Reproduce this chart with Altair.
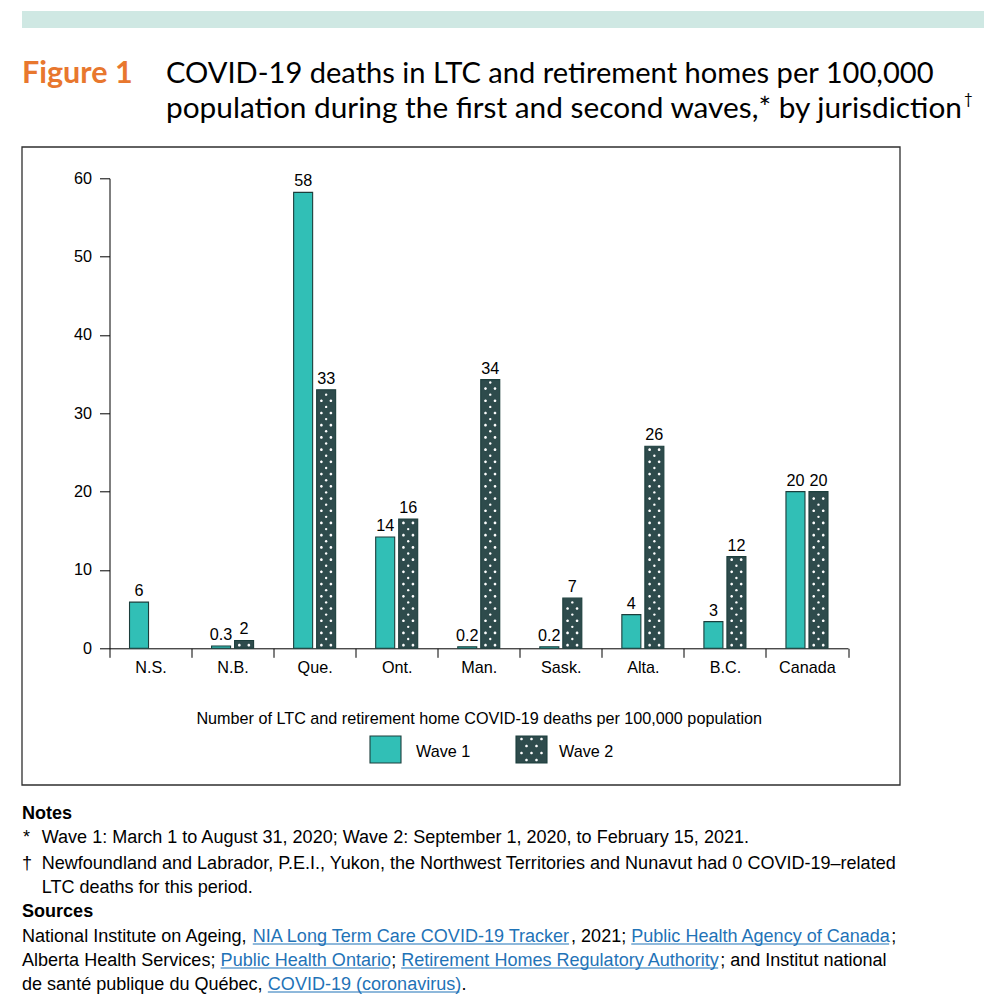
import altair as alt
import pandas as pd

# ---------------- data ----------------
jurisdictions = ["N.S.", "N.B.", "Que.", "Ont.", "Man.", "Sask.", "Alta.", "B.C.", "Canada"]
wave1_values = [5.9, 0.3, 58.2, 14.2, 0.2, 0.2, 4.3, 3.4, 20.0]
wave2_values = [None, 1.0, 33.0, 16.5, 34.3, 6.4, 25.8, 11.7, 20.0]
wave1_labels = ["6", "0.3", "58", "14", "0.2", "0.2", "4", "3", "20"]
wave2_labels = ["", "2", "33", "16", "34", "7", "26", "12", "20"]
waves = ["Wave 1", "Wave 2"]
y_ticks = [0, 10, 20, 30, 40, 50, 60]

title_fig = "Figure 1"
title_line1 = "COVID-19 deaths in LTC and retirement homes per 100,000"
title_line2 = "population during the first and second waves,* by jurisdiction"
x_title = "Number of LTC and retirement home COVID-19 deaths per 100,000 population"
notes_head = "Notes"
note1 = "Wave 1: March 1 to August 31, 2020; Wave 2: September 1, 2020, to February 15, 2021."
note2a = "Newfoundland and Labrador, P.E.I., Yukon, the Northwest Territories and Nunavut had 0 COVID-19\u2013related"
note2b = "LTC deaths for this period."
sources_head = "Sources"
source_lines = [
    [("National Institute on Ageing, ", False), ("NIA Long Term Care COVID-19 Tracker", True),
     (", 2021; ", False), ("Public Health Agency of Canada", True), (";", False)],
    [("Alberta Health Services; ", False), ("Public Health Ontario", True), ("; ", False),
     ("Retirement Homes Regulatory Authority", True), ("; and Institut national", False)],
    [("de sant\u00e9 publique du Qu\u00e9bec, ", False), ("COVID-19 (coronavirus)", True), (".", False)],
]

# ---------------- styling ----------------
TEAL = "#31bfb6"
SLATE = "#2e4b4c"
EDGE = "#1c3e3c"
ORANGE = "#e8772e"
LINK = "#1f73b7"
BAND = "#cfe8e3"
CHART_FONT = "Liberation Sans, Arial, sans-serif"
NOTE_FONT = "Liberation Sans, Arial, sans-serif"
TITLE_FONT = "Lato, Open Sans, sans-serif"
CF = 16.2   # chart font size
NF = 18.05  # notes font size

# plot area placement on the page (page has 8px margin)
OX, OY = 109.5, 178.3
W, H = 738.5, 470.0


def px(X):
    return X - OX


def py(Y):
    return Y - OY


ARIAL = {' ': 278, ',': 278, '.': 278, ';': 278, ':': 278, '-': 333, '(': 333, ')': 333,
         'A': 667, 'B': 667, 'C': 722, 'D': 722, 'E': 667, 'F': 611, 'G': 778, 'H': 722, 'I': 278,
         'J': 500, 'K': 667, 'L': 556, 'M': 833, 'N': 722, 'O': 778, 'P': 667, 'Q': 778, 'R': 722,
         'S': 667, 'T': 611, 'U': 722, 'V': 667, 'W': 944, 'X': 667, 'Y': 667, 'Z': 611,
         'a': 556, 'b': 556, 'c': 500, 'd': 556, 'e': 556, 'f': 278, 'g': 556, 'h': 556, 'i': 222,
         'j': 222, 'k': 500, 'l': 222, 'm': 833, 'n': 556, 'o': 556, 'p': 556, 'q': 556, 'r': 333,
         's': 500, 't': 278, 'u': 556, 'v': 500, 'w': 722, 'x': 500, 'y': 500, 'z': 500,
         '\u00e9': 556}
KERN = {"Te": -111, "Tr": -37, "Ta": -111, "To": -111, "Ty": -74, "LT": -111, "AV": -74,
        "y.": -111, "y,": -111, "r.": -55, "r,": -55, "P.": -152, "P,": -152}


def text_width(s, size):
    w = sum(ARIAL.get(c, 556) for c in s)
    w += sum(KERN.get(s[i:i + 2], 0) for i in range(len(s) - 1))
    return w * size / 1000.0


def dots_path(points, r, half):
    parts = []
    for (x, y) in points:
        nx, ny, nr = x / half, y / half, r / half
        parts.append(f"M{nx - nr:.4f},{ny:.4f}a{nr:.4f},{nr:.4f} 0 1,0 {2 * nr:.4f},0"
                     f"a{nr:.4f},{nr:.4f} 0 1,0 {-2 * nr:.4f},0Z")
    return "".join(parts)


# ---------------- tables ----------------
rows = []
for i, j in enumerate(jurisdictions):
    if wave1_values[i] is not None:
        rows.append({"jur": j, "wave": "Wave 1", "value": wave1_values[i], "label": wave1_labels[i]})
    if wave2_values[i] is not None:
        rows.append({"jur": j, "wave": "Wave 2", "value": wave2_values[i], "label": wave2_labels[i]})
df = pd.DataFrame(rows)

# dotted pattern rows inside the Wave 2 bars
ROW_STEP = 0.78
dot_rows = []
for i, j in enumerate(jurisdictions):
    v = wave2_values[i]
    if v is None:
        continue
    k = 0
    y = 0.4
    while y < v - 0.3:
        dot_rows.append({"jur": j, "wave": "Wave 2", "value": y, "kind": "even" if k % 2 == 0 else "odd"})
        k += 1
        y = 0.4 + k * ROW_STEP
df_dots = pd.DataFrame(dot_rows)
one = pd.DataFrame({"k": [0]})

X_ENC = alt.X("jur:N", sort=jurisdictions,
              scale=alt.Scale(domain=jurisdictions, paddingInner=0, paddingOuter=0),
              axis=alt.Axis(title=x_title, titleFont=CHART_FONT, titleFontSize=CF, titleFontWeight="normal",
                            titleColor="black", titleY=75.5, titleBaseline="alphabetic",
                            labelAngle=0, tickBand="extent", tickSize=9, tickColor="black",
                            domainColor="black", labelFont=CHART_FONT, labelFontSize=CF,
                            labelColor="black", labelPadding=2))
XO_ENC = alt.XOffset("wave:N", scale=alt.Scale(domain=waves, paddingInner=0.174, paddingOuter=0.87))
Y_ENC = alt.Y("value:Q", scale=alt.Scale(domain=[0, 60], nice=False, zero=True),
              axis=alt.Axis(values=y_ticks, title=None, grid=False, tickSize=10, tickColor="black",
                            domainColor="black", labelFont=CHART_FONT, labelFontSize=CF,
                            labelColor="black", labelPadding=8))

bars = alt.Chart(df).mark_bar(stroke=EDGE, strokeWidth=1.1).encode(
    x=X_ENC, xOffset=XO_ENC, y=Y_ENC,
    fill=alt.Fill("wave:N", scale=alt.Scale(domain=waves, range=[TEAL, SLATE]), legend=None),
)

PATH2 = dots_path([(-4.75, 0), (4.75, 0)], 1.35, 6.2)
dots_even = alt.Chart(df_dots).transform_filter(alt.datum.kind == "even").mark_point(
    shape=PATH2, size=(2 * 6.2) ** 2, filled=True, fill="white", strokeWidth=0, opacity=1).encode(
    x=X_ENC, xOffset=XO_ENC, y=Y_ENC)
dots_odd = alt.Chart(df_dots).transform_filter(alt.datum.kind == "odd").mark_circle(
    size=5.7, fill="white", strokeWidth=0, opacity=1).encode(
    x=X_ENC, xOffset=XO_ENC, y=Y_ENC)

labels = alt.Chart(df).mark_text(dy=-6, baseline="alphabetic", font=CHART_FONT, fontSize=CF,
                                 color="black").encode(
    x=X_ENC, xOffset=XO_ENC, y=Y_ENC, text="label:N")

# ---------------- decorations ----------------
layers = []
layers.append(alt.Chart(one).mark_rect(fill=BAND).encode(
    x=alt.value(px(22)), x2=alt.value(px(984)), y=alt.value(py(11)), y2=alt.value(py(28))))
layers.append(alt.Chart(one).mark_rect(fill="transparent", stroke="#2f2f2f", strokeWidth=1.3).encode(
    x=alt.value(px(22)), x2=alt.value(px(900)), y=alt.value(py(147)), y2=alt.value(py(785))))


def txt(s, X, Y, font, size, color="black", weight="normal"):
    return alt.Chart(one).mark_text(text=s, align="left", baseline="alphabetic", font=font,
                                    fontSize=size, color=color, fontWeight=weight).encode(
        x=alt.value(px(X)), y=alt.value(py(Y)))


layers.append(txt(title_fig, 22, 83, TITLE_FONT, 30.5, ORANGE, "bold"))
layers.append(txt(title_line1, 166, 83, TITLE_FONT, 29.1))
layers.append(txt(title_line2, 166, 117.5, TITLE_FONT, 29.8))
layers.append(txt("\u2020", 964, 104, TITLE_FONT, 15))

layers.append(txt(notes_head, 22, 819, NOTE_FONT, NF, weight="bold"))
layers.append(txt("*", 23, 843, NOTE_FONT, NF))
layers.append(txt(note1, 41.7, 843, NOTE_FONT, NF))
layers.append(txt("\u2020", 22, 868.5, NOTE_FONT, NF))
layers.append(txt(note2a, 41.7, 868.5, NOTE_FONT, NF))
layers.append(txt(note2b, 41.7, 892.5, NOTE_FONT, NF))
layers.append(txt(sources_head, 22, 917, NOTE_FONT, NF, weight="bold"))

for li, segs in enumerate(source_lines):
    Y = 941.5 + li * 24
    X = 22.0
    for s, is_link in segs:
        layers.append(txt(s, X, Y, NOTE_FONT, NF, LINK if is_link else "black"))
        w = text_width(s, NF)
        if is_link:
            layers.append(alt.Chart(one).mark_rule(color=LINK, strokeWidth=1).encode(
                x=alt.value(px(X)), x2=alt.value(px(X + w - 2)), y=alt.value(py(Y + 2.5))))
        X += w

# ---------------- legend (swatches with the same fills as the bars) ----------------
SW_Y0, SW_Y1 = 736, 763
LEG1_X, LEG2_X = 370, 516
leg = []
leg.append(alt.Chart(one).mark_rect(fill=TEAL, stroke=EDGE, strokeWidth=1.1).encode(
    x=alt.value(px(LEG1_X)), x2=alt.value(px(LEG1_X + 31)), y=alt.value(py(SW_Y0)), y2=alt.value(py(SW_Y1))))
leg.append(alt.Chart(one).mark_rect(fill=SLATE, stroke=EDGE, strokeWidth=1.1).encode(
    x=alt.value(px(LEG2_X)), x2=alt.value(px(LEG2_X + 31)), y=alt.value(py(SW_Y0)), y2=alt.value(py(SW_Y1))))
leg_pts = []
for r, yy in enumerate([-10.5, -3.5, 3.5, 10.5]):
    xs = [-10, 0, 10] if r % 2 == 0 else [-5, 5]
    for xx in xs:
        leg_pts.append((xx, yy))
PATH_LEG = dots_path(leg_pts, 1.35, 15.0)
leg.append(alt.Chart(one).mark_point(shape=PATH_LEG, size=900, filled=True, fill="white",
                                     strokeWidth=0, opacity=1).encode(
    x=alt.value(px(LEG2_X + 15.5)), y=alt.value(py((SW_Y0 + SW_Y1) / 2))))
leg.append(txt(waves[0], LEG1_X + 46, 756.5, CHART_FONT, CF))
leg.append(txt(waves[1], LEG2_X + 43, 756.5, CHART_FONT, CF))

chart = alt.layer(*layers, bars, dots_even, dots_odd, labels, *leg).properties(
    width=W, height=H,
    padding={"left": OX - 8, "top": OY - 8, "right": 998 - (OX + W), "bottom": 1000 - (OY + H)},
    autosize=alt.AutoSizeParams(type="none"),
    background="white",
).configure_view(stroke="transparent")

chart.save("out.html", embed_options={"renderer": "svg", "actions": False})
